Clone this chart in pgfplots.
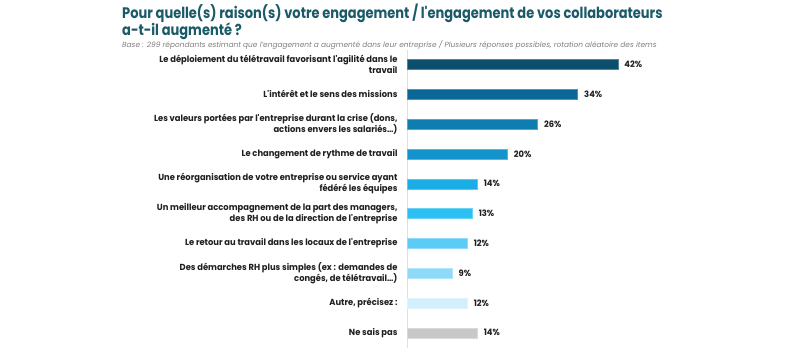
\documentclass[border=0pt]{standalone}
\usepackage{pgfplots}
\pgfplotsset{compat=1.18}
\usepackage{fontspec}
\setmainfont{Poppins}
\newfontfamily\titlefont[FakeStretch=0.85]{Poppins}
\newfontfamily\labelfont[FakeStretch=0.95]{Poppins}
\definecolor{titlec}{HTML}{1B5A68}
\definecolor{c0}{HTML}{0B4F6C}
\definecolor{c1}{HTML}{0A6796}
\definecolor{c2}{HTML}{0E7EB0}
\definecolor{c3}{HTML}{1494CC}
\definecolor{c4}{HTML}{1AADE6}
\definecolor{c5}{HTML}{2CC0F2}
\definecolor{c6}{HTML}{5CCCF6}
\definecolor{c7}{HTML}{8FDAF8}
\definecolor{c8}{HTML}{D3EFFB}
\definecolor{c9}{HTML}{C8C8C8}
\begin{document}
\begin{tikzpicture}
\path[use as bounding box,fill=white] (0pt,0pt) rectangle (800pt,-352pt);
\node[anchor=north west,align=left,text=titlec,font=\titlefont\fontsize{15.3}{17}\selectfont\bfseries,inner sep=0pt] at (122pt,-4pt)
{Pour quelle(s) raison(s) votre engagement / l'engagement de vos collaborateurs\\a-t-il augmenté ?};
\node[anchor=west,text=gray,font=\fontsize{7.4}{8}\selectfont\itshape,inner sep=0pt] at (122pt,-45.5pt)
{Base : 299 répondants estimant que l'engagement a augmenté dans leur entreprise / Plusieurs réponses possibles, rotation aléatoire des items};
\begin{axis}[
  at={(407pt,-49.6pt)}, anchor=north west,
  scale only axis, width=251pt, height=298pt,
  xmin=0, xmax=50, ymin=-0.5, ymax=9.5, y dir=reverse,
  xbar, bar width=10pt, bar shift=0pt,
  axis x line=none, axis y line*=left,
  y axis line style={draw=black!12, line width=0.8pt},
  ytick={0,...,9}, major tick length=0pt,
  yticklabels={
    {Le déploiement du télétravail favorisant l'agilité dans le\\travail},
    {L'intérêt et le sens des missions},
    {Les valeurs portées par l'entreprise durant la crise (dons,\\actions envers les salariés\dots)},
    {Le changement de rythme de travail},
    {Une réorganisation de votre entreprise ou service ayant\\fédéré les équipes},
    {Un meilleur accompagnement de la part des managers,\\des RH ou de la direction de l'entreprise},
    {Le retour au travail dans les locaux de l'entreprise},
    {Des démarches RH plus simples (ex : demandes de\\congés, de télétravail\dots)},
    {Autre, précisez :},
    {Ne sais pas}},
  yticklabel style={align=right, font=\labelfont\fontsize{8.8}{11}\selectfont\bfseries, text=black!88, xshift=-6pt},
  nodes near coords={\pgfmathprintnumber{\pgfplotspointmeta}\%},
  nodes near coords style={font=\labelfont\fontsize{8.8}{10}\selectfont\bfseries, text=black!88, anchor=west, xshift=3pt, /pgf/number format/assume math mode=true},
  clip=false,
]
\addplot[fill=c0, draw=c0!70!white] coordinates {(42,0)};
\addplot[fill=c1, draw=c1!70!white] coordinates {(34,1)};
\addplot[fill=c2, draw=c2!70!white] coordinates {(26,2)};
\addplot[fill=c3, draw=c3!70!white] coordinates {(20,3)};
\addplot[fill=c4, draw=c4!70!white] coordinates {(14,4)};
\addplot[fill=c5, draw=c5!70!white] coordinates {(13,5)};
\addplot[fill=c6, draw=c6!70!white] coordinates {(12,6)};
\addplot[fill=c7, draw=c7!70!white] coordinates {(9,7)};
\addplot[fill=c8, draw=c8!70!white] coordinates {(12,8)};
\addplot[fill=c9, draw=c9!70!white] coordinates {(14,9)};
\end{axis}
\end{tikzpicture}
\end{document}
